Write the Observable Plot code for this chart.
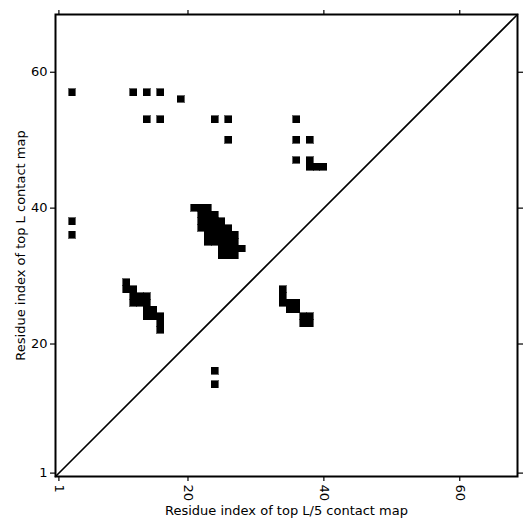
<!DOCTYPE html>
<html>
<head>
<meta charset="utf-8">
<script src="https://cdn.jsdelivr.net/npm/d3@7"></script>
<script src="https://cdn.jsdelivr.net/npm/@observablehq/plot@0.6"></script>
<style>
  html, body { margin: 0; padding: 0; background: #fff; }
  #chart { width: 531px; height: 531px; }
</style>
</head>
<body>
<div id="chart"></div>
<script>
// Residue range of the map (cells centred on integer residue indices)
const residueDomain = [0.5, 68.5];
const xTicks = [1, 20, 40, 60];
const yTicks = [1, 20, 40, 60];
const xLabel = "Residue index of top L/5 contact map";
const yLabel = "Residue index of top L contact map";

// Isolated contacts [x residue, y residue]
const singleContacts = [
  [3, 57], [12, 57], [14, 57], [16, 57], [19, 56],
  [14, 53], [16, 53], [24, 53], [26, 53], [36, 53],
  [26, 50], [36, 50], [38, 50],
  [36, 47], [38, 47], [38, 46], [39, 46], [40, 46],
  [3, 38], [3, 36],
  [24, 16], [24, 14]
];
// Large cluster near (21-28, 33-40)
const clusterA = [
  [21, 40], [22, 40], [23, 40],
  [22, 39], [23, 39], [24, 39],
  [22, 38], [23, 38], [24, 38], [25, 38],
  [22, 37], [23, 37], [24, 37], [25, 37], [26, 37],
  [23, 36], [24, 36], [25, 36], [26, 36], [27, 36],
  [23, 35], [24, 35], [25, 35], [26, 35], [27, 35],
  [25, 34], [26, 34], [27, 34], [28, 34],
  [25, 33], [26, 33], [27, 33]
];
// Cluster near (11-16, 22-29)
const clusterB = [
  [11, 29],
  [11, 28], [12, 28],
  [12, 27], [13, 27], [14, 27],
  [12, 26], [13, 26], [14, 26],
  [14, 25], [15, 25],
  [14, 24], [15, 24], [16, 24],
  [16, 23],
  [16, 22]
];
// Cluster near (34-38, 23-28)
const clusterC = [
  [34, 28], [34, 27],
  [34, 26], [35, 26], [36, 26],
  [35, 25], [36, 25],
  [37, 24], [38, 24],
  [37, 23], [38, 23]
];

const contacts = [...singleContacts, ...clusterA, ...clusterB, ...clusterC];
const diagonal = residueDomain.map(v => ({x: v, y: v}));

const chart = Plot.plot({
  width: 531,
  height: 531,
  marginLeft: 55,
  marginRight: 14,
  marginTop: 14,
  marginBottom: 55,
  style: {fontFamily: "DejaVu Sans, sans-serif", fontSize: "13px", color: "black", background: "white"},
  x: {domain: residueDomain},
  y: {domain: residueDomain},
  marks: [
    Plot.rect(contacts, {
      x1: d => d[0] - 0.5, x2: d => d[0] + 0.5,
      y1: d => d[1] - 0.5, y2: d => d[1] + 0.5,
      fill: "black", stroke: "black", strokeWidth: 0.6, inset: 0,
      shapeRendering: "crispEdges"
    }),
    Plot.line(diagonal, {x: "x", y: "y", stroke: "black", strokeWidth: 1.6}),
    Plot.axisX({anchor: "bottom", ticks: xTicks, tickSize: 5, tickPadding: 3, tickRotate: 90,
      tickFormat: d => String(d), label: xLabel, labelAnchor: "center", labelArrow: "none", labelOffset: 38, strokeWidth: 1.2}),
    Plot.axisX({anchor: "top", ticks: xTicks, tickSize: 5, tickFormat: () => "", label: null, strokeWidth: 1.2}),
    Plot.axisY({anchor: "left", ticks: yTicks, tickSize: 5, tickPadding: 3,
      tickFormat: d => String(d), label: yLabel, labelAnchor: "center", labelArrow: "none", labelOffset: 40, strokeWidth: 1.2}),
    Plot.axisY({anchor: "right", ticks: yTicks, tickSize: 5, tickFormat: () => "", label: null, strokeWidth: 1.2}),
    Plot.frame({stroke: "black", strokeWidth: 2})
  ]
});
document.getElementById("chart").appendChild(chart);
</script>
</body>
</html>
